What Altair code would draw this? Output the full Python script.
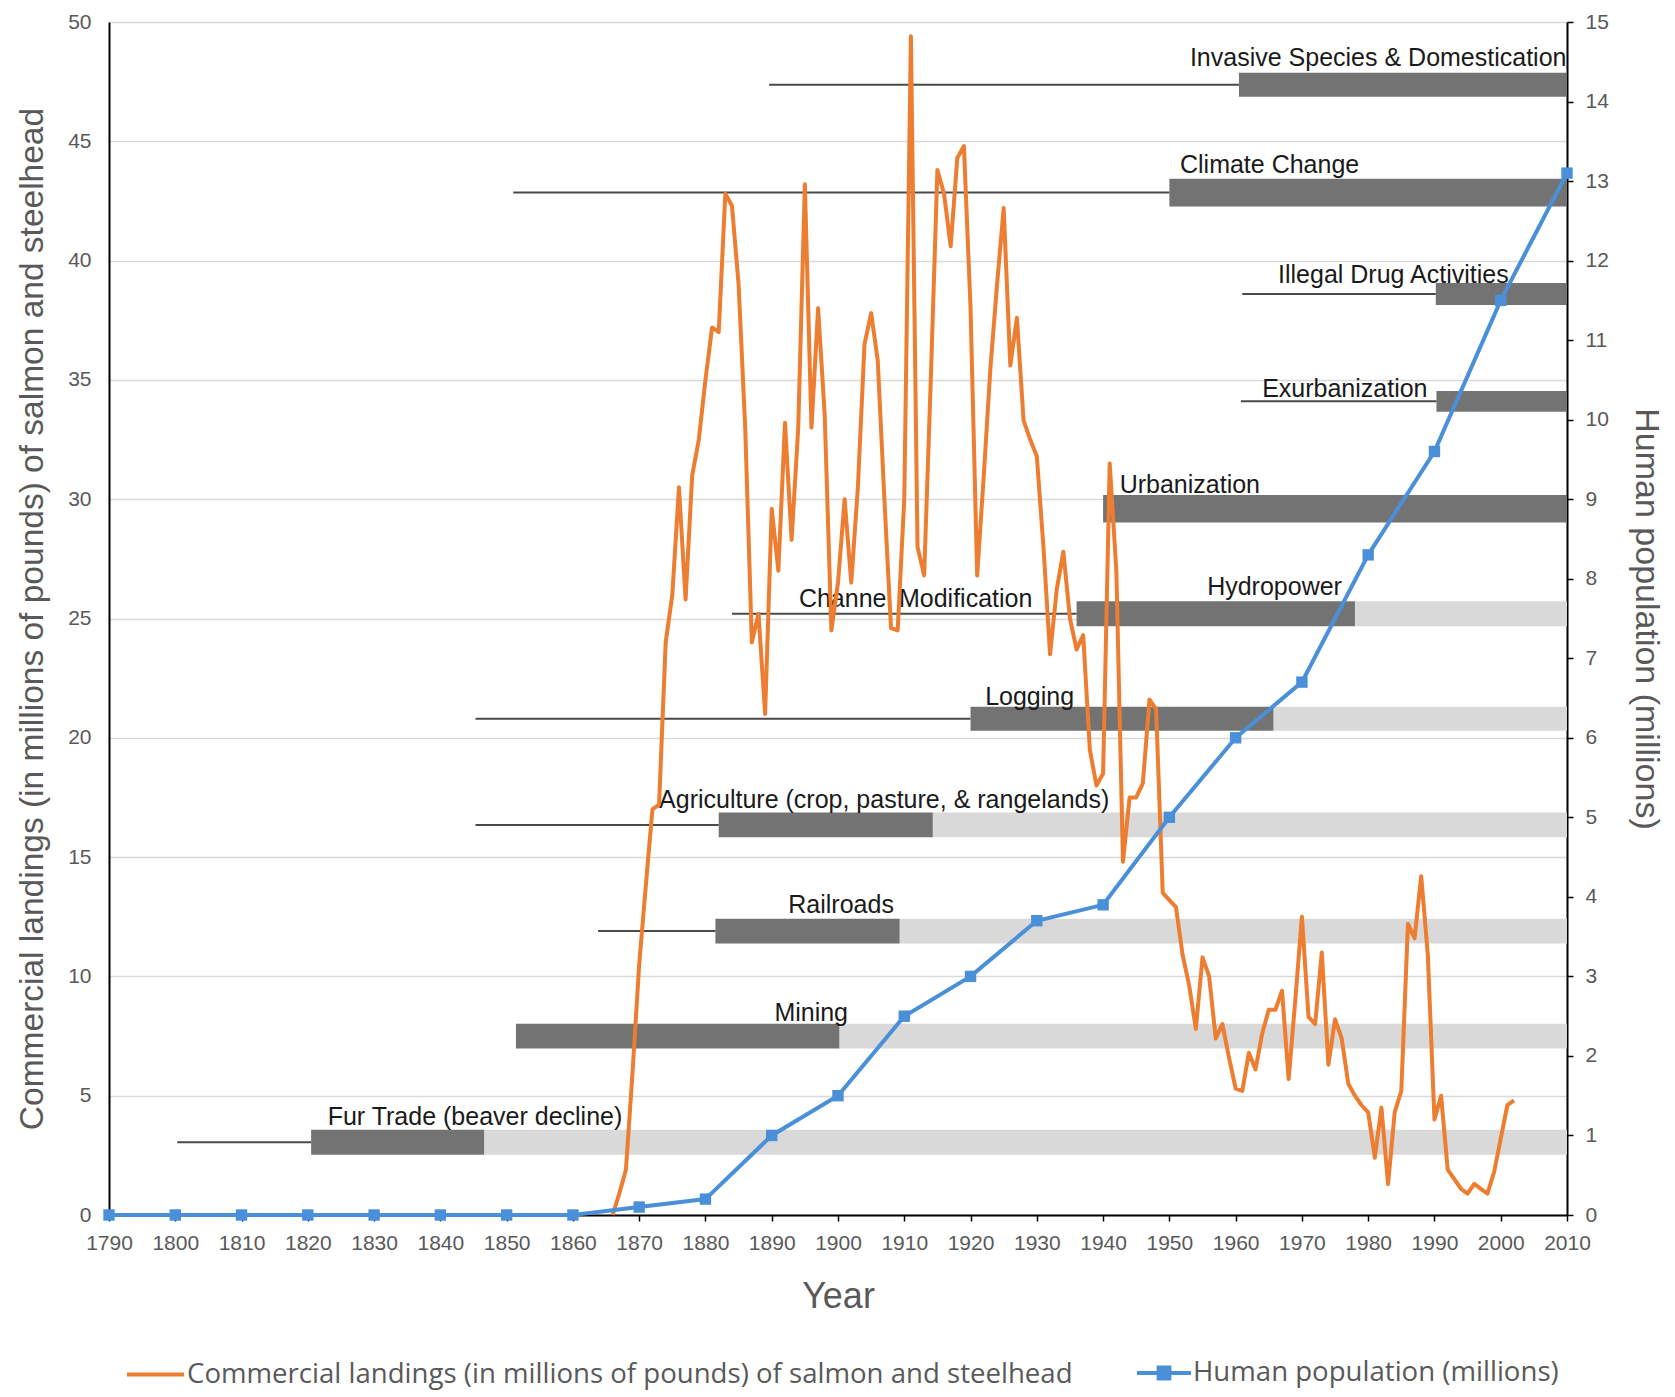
import altair as alt
import pandas as pd

# ---------------- data ----------------
ORANGE_NAME = "Commercial landings (in millions of pounds) of salmon and steelhead"
BLUE_NAME = "Human population (millions)"

pop_years = list(range(1790, 2011, 10))
pop_values = [0, 0, 0, 0, 0, 0, 0, 0, 0.1, 0.2, 1.0, 1.5, 2.5, 3.0, 3.7, 3.9,
              5.0, 6.0, 6.7, 8.3, 9.6, 11.5, 13.1]

landing_years = list(range(1866, 2003))
landings = [
    0.0, 0.9, 1.9, 6.0, 10.5, 13.8, 17.0, 17.2, 24.0, 26.0,
    30.5, 25.8, 31.0, 32.5, 35.0, 37.2, 37.0, 42.8, 42.3, 39.0,
    33.0, 24.0, 25.2, 21.0, 29.6, 27.0, 33.2, 28.3, 33.0, 43.2,
    33.0, 38.0, 33.5, 24.5, 26.5, 30.0, 26.5, 30.5, 36.5, 37.8,
    35.8, 30.0, 24.6, 24.5, 30.0, 49.4, 28.0, 26.8, 35.0, 43.8,
    42.8, 40.6, 44.3, 44.8, 38.0, 26.8, 31.0, 35.5, 39.0, 42.2,
    35.6, 37.6, 33.3, 32.5, 31.8, 28.0, 23.5, 26.2, 27.8, 25.0,
    23.7, 24.3, 19.5, 18.0, 18.5, 31.5, 27.0, 14.8, 17.5, 17.5,
    18.1, 21.6, 21.2, 13.5, 13.2, 12.9, 10.9, 9.6, 7.8, 10.8,
    10.0, 7.4, 8.0, 6.6, 5.3, 5.2, 6.8, 6.1, 7.6, 8.6,
    8.6, 9.4, 5.7, 9.0, 12.5, 8.3, 8.0, 11.0, 6.3, 8.2,
    7.4, 5.5, 5.0, 4.6, 4.3, 2.4, 4.5, 1.3, 4.3, 5.2,
    12.2, 11.6, 14.2, 10.9, 4.0, 5.0, 1.9, 1.5, 1.1, 0.9,
    1.3, 1.1, 0.9, 1.8, 3.2, 4.6, 4.8,
]

# threat rows (left-axis units for vertical placement, years for horizontal)
row_y = [3.05, 7.5, 11.9, 16.35, 20.8, 25.2, 29.6, 34.1, 38.6, 42.85, 47.37]
row_half = [0.52, 0.52, 0.52, 0.52, 0.5, 0.52, 0.58, 0.43, 0.46, 0.58, 0.5]
line_start = [1800.3, None, 1863.8, 1845.3, 1845.3, 1884.0, None, 1960.8, 1961.0, 1851.0, 1889.6]
dark_start = [1820.5, 1851.4, 1881.5, 1882.0, 1920.0, 1936.0, 1940.0, 1990.3, 1990.2, 1950.0, 1960.5]
dark_end = [1846.6, 1900.2, 1909.3, 1914.3, 1965.7, 1978.0, 2010, 2010, 2010, 2010, 2010]
period_end = 2010

label_text = ["Fur Trade (beaver decline)", "Mining", "Railroads",
              "Agriculture (crop, pasture, & rangelands)", "Logging",
              "Channel Modification", "Hydropower", "Urbanization",
              "Exurbanization", "Illegal Drug Activities", "Climate Change",
              "Invasive Species & Domestication"]
label_x = [1823.0, 1890.4, 1892.5, 1873.0, 1922.2, 1894.1, 1955.7, 1942.5,
           1964.0, 1966.4, 1951.6, 1953.1]
label_y = [4.1, 8.45, 13.0, 17.4, 21.7, 25.8, 26.3, 30.6, 34.6, 39.4, 44.0, 48.5]

x_ticks = list(range(1790, 2011, 10))
left_ticks = list(range(0, 51, 5))
right_ticks = list(range(0, 16))

# ---------------- tables ----------------
pop_df = pd.DataFrame({"year": pop_years, "pop": pop_values, "series": BLUE_NAME})
land_df = pd.DataFrame({"year": landing_years, "v": landings, "series": ORANGE_NAME})

rows = pd.DataFrame({"y": row_y, "half": row_half, "ls": line_start,
                     "ds": dark_start, "de": dark_end})
rows["lo"] = rows["y"] - rows["half"]
rows["hi"] = rows["y"] + rows["half"]
rows["end"] = period_end
line_df = rows.dropna(subset=["ls"])
light_df = rows[rows["de"] < period_end]
label_df = pd.DataFrame({"x": label_x, "y": label_y, "t": label_text})

# ---------------- styling ----------------
ORANGE = "#ED7D31"
BLUE = "#4A90D9"
GRAY_TXT = "#595959"
FONT = "Open Sans"
H = 1193

x_axis = alt.Axis(values=x_ticks, format="d", title="Year", grid=False,
                  labelOverlap=False, labelFlush=False,
                  tickColor="black", tickSize=6, tickWidth=1.5,
                  domainColor="black", domainWidth=2,
                  labelFontSize=21, labelPadding=11, labelColor=GRAY_TXT,
                  titleFontSize=36, titleColor=GRAY_TXT, titleFontWeight="normal",
                  titleY=81, titleBaseline="middle")
x_scale = alt.Scale(domain=[1790, 2010], nice=False, zero=False)

left_axis = alt.Axis(values=left_ticks, title=ORANGE_NAME, grid=True,
                     labelOverlap=False, labelFlush=False,
                     gridColor="#d9d9d9", gridWidth=1.5, ticks=False,
                     domainColor="black", domainWidth=2,
                     labelFontSize=21, labelPadding=18, labelColor=GRAY_TXT,
                     titleFontSize=33.5, titleColor=GRAY_TXT, titleFontWeight="normal",
                     titleAngle=-90, titleX=-77, titleY=H / 2, titleBaseline="middle")
left_scale = alt.Scale(domain=[0, 50], nice=False)

right_axis = alt.Axis(values=right_ticks, title=BLUE_NAME, orient="right", grid=False,
                      labelOverlap=False, labelFlush=False,
                      tickColor="black", tickSize=6, tickWidth=1.5,
                      domainColor="black", domainWidth=2,
                      labelFontSize=21, labelPadding=12, labelColor=GRAY_TXT,
                      titleFontSize=34, titleColor=GRAY_TXT, titleFontWeight="normal",
                      titleAngle=90, titleX=78, titleY=H / 2, titleBaseline="middle")
right_scale = alt.Scale(domain=[0, 15], nice=False)


def X(field):
    return alt.X(f"{field}:Q", scale=x_scale, axis=x_axis, title="Year")


def YL(field):
    return alt.Y(f"{field}:Q", scale=left_scale, axis=left_axis, title=ORANGE_NAME)


light = alt.Chart(light_df).mark_rect(color="#d9d9d9").encode(
    x=X("de"), x2="end", y=YL("lo"), y2="hi")
dark = alt.Chart(rows).mark_rect(color="#737373").encode(
    x=X("ds"), x2="de", y=YL("lo"), y2="hi")
lines = alt.Chart(line_df).mark_rule(color="#4a4a4a", strokeWidth=2).encode(
    x=X("ls"), x2="ds", y=YL("y"))
labels = alt.Chart(label_df).mark_text(
    align="left", baseline="middle", font="Liberation Sans", fontSize=25,
    color="#1a1a1a").encode(x=X("x"), y=YL("y"), text="t:N")

orange = alt.Chart(land_df).mark_line(strokeWidth=4, strokeJoin="round").encode(
    x=X("year"), y=YL("v"),
    color=alt.Color("series:N",
                    scale=alt.Scale(domain=[ORANGE_NAME], range=[ORANGE]),
                    legend=alt.Legend(title=None, orient="none", legendX=16, legendY=1322,
                                      symbolType="stroke", symbolSize=3249,
                                      symbolStrokeWidth=4, labelFontSize=27.6,
                                      labelFont=FONT, labelColor=GRAY_TXT,
                                      labelLimit=0, labelOffset=1)))

left = alt.layer(light, dark, lines, labels, orange)

YR = alt.Y("pop:Q", scale=right_scale, axis=right_axis, title=BLUE_NAME)
blue_line = alt.Chart(pop_df).mark_line(color=BLUE, strokeWidth=4).encode(
    x=X("year"), y=YR)
blue_pts = alt.Chart(pop_df).mark_point(shape="square", filled=True, size=130,
                                        opacity=1).encode(
    x=X("year"), y=YR,
    color=alt.Color("series:N",
                    scale=alt.Scale(domain=[BLUE_NAME], range=[BLUE]),
                    legend=alt.Legend(title=None, orient="none", legendX=1026, legendY=1322,
                                      symbolType="M-1,0H1M-0.2,-0.2H0.2V0.2H-0.2Z",
                                      symbolSize=2916, symbolStrokeWidth=4,
                                      symbolFillColor=BLUE, symbolStrokeColor=BLUE,
                                      labelFontSize=27.6, labelFont=FONT,
                                      labelColor=GRAY_TXT, labelLimit=0, labelOffset=0)))
right = alt.layer(blue_line, blue_pts)

chart = alt.layer(left, right).resolve_scale(
    y="independent", color="independent"
).properties(
    width=1458, height=H,
    padding={"left": 101, "top": 14, "right": 100, "bottom": 178},
    autosize=alt.AutoSizeParams(type="none"),
).configure_view(strokeWidth=0).configure_axis(
    labelFont=FONT, titleFont=FONT
).configure(background="white")

chart.save("out.html", embed_options={"renderer": "svg", "actions": False})
